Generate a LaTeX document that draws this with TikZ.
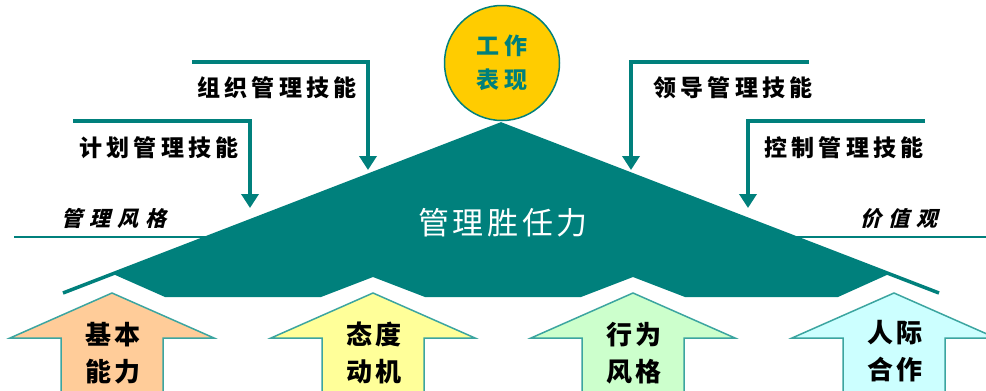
\documentclass[tikz,border=0pt]{standalone}
\usepackage{fontspec}
\newfontfamily\cjk{Noto Sans CJK SC}
\newfontfamily\cjkit[FakeSlant=0.25]{Noto Sans CJK SC}
\usetikzlibrary{arrows.meta}
\definecolor{tealA}{RGB}{0,128,124}
\definecolor{tealB}{RGB}{60,165,160}
\definecolor{circY}{RGB}{255,204,0}
\definecolor{peachA}{RGB}{255,204,153}
\definecolor{yellA}{RGB}{255,255,153}
\definecolor{greenA}{RGB}{204,255,204}
\definecolor{cyanA}{RGB}{204,255,255}
\tikzset{
  callout/.style={draw=tealA, line width=4.5pt, -{Triangle[width=17pt,length=14pt]}},
  skill/.style={inner sep=0pt, text=black, font=\fontsize{23}{23}\cjk\bfseries\addfontfeatures{LetterSpace=18}},
  side/.style={inner sep=0pt, text=black, font=\fontsize{21}{21}\cjkit\bfseries\addfontfeatures{LetterSpace=32}},
  arrlbl/.style={inner sep=0pt, text=black, align=center, font=\fontsize{26}{37}\cjk\bfseries\addfontfeatures{LetterSpace=10}},
  upbox/.style={draw=tealB, line width=1.5pt, line join=miter},
  baseline/.style={draw=tealA, line width=2.5pt},
}
\begin{document}
\begin{tikzpicture}[x=1pt,y=-1pt]
\useasboundingbox (0,0) rectangle (986,391);
\clip (0,0) rectangle (986,391);
\fill[white] (0,0) rectangle (986,391);

% horizontal base lines
\coordinate (hl1) at (14,237);
\coordinate (hl2) at (220,237);
\coordinate (hr1) at (790,237);
\coordinate (hr2) at (986,237);
\draw[baseline] (hl1) -- (hl2);
\draw[baseline] (hr1) -- (hr2);

% main teal roof
\coordinate (apex) at (501,124);
\coordinate (lend) at (63,293);
\coordinate (rend) at (939,293);
\fill[tealA] (apex) -- (113,274) -- (165,297) -- (321,297) -- (373,277) -- (425,297)
  -- (581,297) -- (633,277) -- (685,297) -- (838,297) -- (889,274) -- cycle;
\draw[tealA, line width=3.5pt, line join=miter] (lend) -- (apex) -- (rend);
\node[inner sep=0pt, text=white, font=\fontsize{31}{31}\cjk\addfontfeatures{LetterSpace=12}] (title) at (503,223) {管理胜任力};

% circle
\node[circle, draw=tealA, line width=1.5pt, fill=circY, minimum size=115pt, inner sep=0pt,
  text=tealA, align=center, font=\fontsize{23}{34}\cjk\bfseries\addfontfeatures{LetterSpace=25}] (perf) at (502,63) {工作\\表现};

% up arrows
\foreach \c/\col in {112/peachA,373/yellA,633/greenA,894/cyanA}{
  \draw[upbox, fill=\col] (\c,293) -- ++(102,45) -- ++(-51,0) -- ++(0,70) -- ++(-102,0)
    -- ++(0,-70) -- ++(-51,0) -- cycle;
}
\node[arrlbl] (a1) at (113,353) {基本\\能力};
\node[arrlbl] (a2) at (374,353) {态度\\动机};
\node[arrlbl] (a3) at (634,353) {行为\\风格};
\node[arrlbl] (a4) at (895,351) {人际\\合作};

% side labels
\node[side] (style) at (114,218) {管理风格};
\node[side] (value) at (899,219) {价值观};

% callouts
\coordinate (c1s) at (192,62);
\coordinate (c1m) at (368,62);
\coordinate (c1e) at (368,170);
\draw[callout] (c1s) -- (c1m) -- (c1e);
\node[skill] (org) at (277,88) {组织管理技能};

\coordinate (c2s) at (73,121);
\coordinate (c2m) at (250,121);
\coordinate (c2e) at (250,208);
\draw[callout] (c2s) -- (c2m) -- (c2e);
\node[skill] (plan) at (159,148) {计划管理技能};

\coordinate (c3s) at (809,62);
\coordinate (c3m) at (631,62);
\coordinate (c3e) at (631,170);
\draw[callout] (c3s) -- (c3m) -- (c3e);
\node[skill] (lead) at (733,88) {领导管理技能};

\coordinate (c4s) at (925,121);
\coordinate (c4m) at (748,121);
\coordinate (c4e) at (748,208);
\draw[callout] (c4s) -- (c4m) -- (c4e);
\node[skill] (ctrl) at (844,148) {控制管理技能};
\end{tikzpicture}
\end{document}
